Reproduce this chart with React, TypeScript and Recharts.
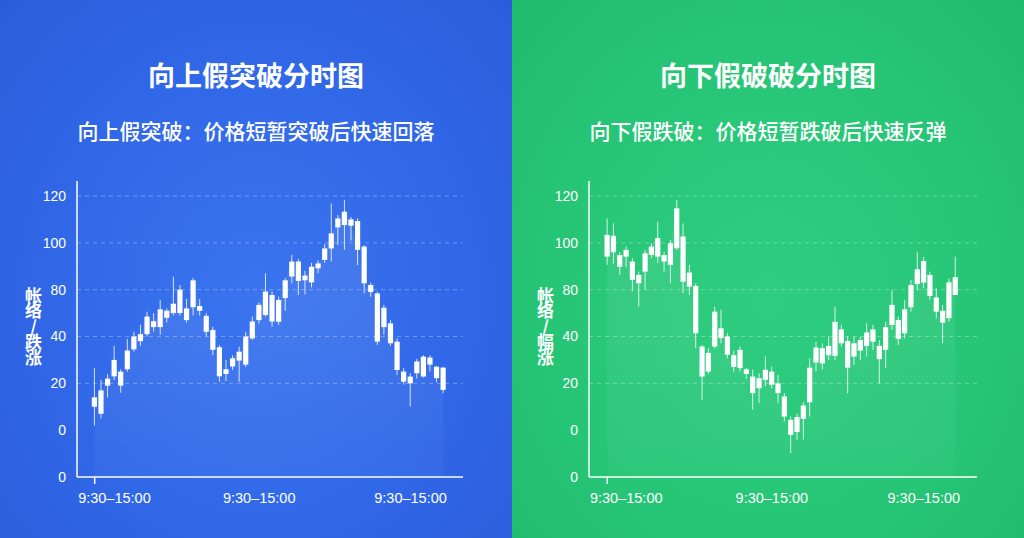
import React from 'react'
import { ComposedChart, Bar, Area, XAxis, YAxis, CartesianGrid } from 'recharts'

// each candle: [open, close, high, low] in axis slot units (0..120)
const upBreakCandles: number[][] = [
  [30, 34, 46.5, 22], [27, 37, 41.5, 25], [39, 42, 44, 34], [43, 50, 56, 41.5],
  [45, 39, 46, 36], [46, 54, 59, 45], [54.5, 60, 62, 53.6], [58, 61, 65, 56],
  [61, 68.5, 70.6, 60], [64, 66.5, 70, 62], [64, 71.6, 75.6, 60.7], [68, 71, 72, 66],
  [70, 74, 85.6, 69], [80, 70, 82, 69], [72, 67, 76, 66], [72.5, 84, 85, 69],
  [73, 71, 76, 69], [68.8, 62, 70, 60], [62.8, 54.3, 64.2, 52], [55.4, 43, 56.4, 40.7],
  [46, 44, 50, 41], [47.2, 50.7, 52, 45.7], [49.7, 53.5, 55.7, 40.7], [48, 60, 62, 47],
  [59.2, 66.4, 68.5, 58.5], [67, 73.5, 74.5, 65.5], [69.2, 79.2, 87, 68.5], [77.7, 66.4, 79.2, 64.2],
  [66.3, 75.6, 77, 65], [76.4, 84, 85, 71], [85.6, 92, 94.8, 82.7], [92, 83.7, 93, 77.7],
  [84, 86, 88, 78], [83.1, 89.8, 91.5, 81], [89.1, 91.2, 92.5, 87], [92.7, 97.6, 99.5, 91.5],
  [97.6, 104, 116.8, 92], [106.6, 110.4, 111.9, 99], [107.6, 113.3, 118.3, 97], [110, 107.3, 111, 101],
  [109.3, 97, 110.4, 90.5], [98.4, 82.7, 99, 78.4], [79, 82, 83, 77], [78.4, 57.8, 79.1, 56.4],
  [64, 72.3, 73.5, 60.7], [65.6, 57.1, 67, 56], [57.8, 45.7, 59.2, 43.6], [45, 40.7, 46.5, 39.5],
  [42.9, 40, 44.4, 30.1], [44.3, 49.3, 50.5, 42], [42.9, 51.4, 52, 42.5], [48, 51, 52, 45],
  [47.1, 42.2, 47.5, 40.5], [46.7, 37.2, 47.1, 35.8],
]

const downBreakCandles: number[][] = [
  [103.4, 94.1, 110.5, 90.6], [96, 103, 108.3, 91], [94.8, 89.8, 96, 86.3], [94.1, 97, 98.5, 89.6],
  [92, 84.2, 93.4, 79.2], [86.3, 82.7, 87.7, 72.8], [87.7, 95.5, 97, 79.9], [94.8, 98.4, 99.8, 93.4],
  [94.1, 102, 109, 91.3], [94.8, 92, 96.2, 87.7], [90.6, 99.8, 101.2, 82.7], [97.7, 114.7, 118.3, 97],
  [102.7, 83.4, 108.3, 78.5], [87.3, 81.3, 90.6, 77.8], [81.6, 61.4, 82.7, 55], [55.7, 42.9, 56.4, 33],
  [45, 53, 55, 44], [55.7, 70.6, 72.8, 55], [63.5, 59.3, 71.4, 57.1], [60, 52.2, 61.4, 50.7],
  [52, 47, 54, 45], [54.3, 46.5, 55.7, 45], [46, 44, 46.5, 42], [42.9, 35.8, 45.8, 28.7],
  [42.2, 37.9, 44.3, 31.5], [41.5, 45.8, 51.5, 38.7], [45, 39.4, 47.2, 37.9], [40, 35.8, 43.6, 31.5],
  [34.4, 25.8, 35.8, 23.7], [24.4, 18, 25.8, 10.2], [19.2, 25.6, 27, 15.9], [24.8, 30.5, 32, 16],
  [31.9, 46.7, 50.7, 25.8], [48.9, 55.3, 57.8, 45], [48.5, 55, 57, 46], [52, 56, 60, 50],
  [51.7, 66.3, 72.7, 50], [63, 57.1, 65, 55.7], [58.1, 46.7, 60, 35.8], [51.4, 57.1, 60, 47.8],
  [54, 58.5, 60, 50], [56, 61.7, 65.6, 51.4], [57.8, 63, 65, 54.3], [56, 50.3, 58.5, 40],
  [54.3, 64, 66.3, 46.5], [64.9, 73.5, 79.9, 62.8], [59, 67, 68.5, 56.4], [61.4, 71.6, 75.6, 59.2],
  [72.5, 82, 84.2, 70.6], [82.4, 88.7, 96.2, 79.9], [92.2, 83, 94, 80.6], [86.3, 77.3, 87.7, 75.6],
  [76.7, 70.6, 80.6, 67.8], [71, 65.9, 73.5, 57.1], [67.8, 83.1, 84.8, 66.3], [77.7, 85.3, 94.1, 77.7],
]

const yTickValues = [0, 20, 40, 60, 80, 100, 120]
const yTickLabels = ['0', '0', '20', '40', '80', '100', '120']
const gridValues = [40, 60, 80, 100, 120]
const sessionLabel = '9:30–15:00'
const upLabelSlots = [3, 25, 48]
const downLabelSlots = [3, 26, 50]

const FONT = '"Noto Sans CJK SC", "Liberation Sans", sans-serif'
const NUM_FONT = '"Liberation Sans", "Noto Sans CJK SC", sans-serif'

const toRows = (candles: number[][]) =>
  candles.map(([o, c, h, l], i) => ({ i, o, c, h, l }))

const Candle = (props: any) => {
  const { x, y, width, height, payload } = props
  if (x == null || y == null || !payload) return null
  const top = Math.min(y, y + height)
  const bottom = Math.max(y, y + height)
  const span = payload.h - payload.l || 1
  const toPx = (v: number) => top + ((payload.h - v) / span) * (bottom - top)
  const cx = x + width / 2
  const bodyTop = toPx(Math.max(payload.o, payload.c))
  const bodyBottom = toPx(Math.min(payload.o, payload.c))
  return (
    <g>
      <line x1={cx} x2={cx} y1={top} y2={bottom} stroke="rgba(255,255,255,0.8)" strokeWidth={1} />
      <rect
        x={cx - 2.6}
        y={bodyTop}
        width={5.2}
        height={Math.max(bodyBottom - bodyTop, 1.5)}
        fill="#ffffff"
      />
    </g>
  )
}

const YTick = ({ x, y, payload }: any) => {
  const idx = yTickValues.indexOf(payload.value)
  return (
    <text
      x={x - 3}
      y={y}
      textAnchor="end"
      dominantBaseline="central"
      fill="#ffffff"
      fontSize={14}
      fontFamily={NUM_FONT}
    >
      {idx >= 0 ? yTickLabels[idx] : ''}
    </text>
  )
}

const XTick = ({ x, y, payload }: any) => {
  if (payload.value === 0) {
    return <line x1={x} x2={x} y1={y - 8} y2={y - 1} stroke="#ffffff" strokeWidth={1.5} />
  }
  return (
    <text
      x={x}
      y={y + 13}
      textAnchor="middle"
      dominantBaseline="central"
      fill="#ffffff"
      fontSize={14.5}
      fontFamily={NUM_FONT}
    >
      {sessionLabel}
    </text>
  )
}

interface PanelProps {
  id: string
  candles: number[][]
  labelSlots: number[]
  title: string
  subtitle: string
  yName: string
  background: string
  padLeft: number
  padRight: number
  marginRight: number
}

function Panel({ id, candles, labelSlots, title, subtitle, yName, background, padLeft, padRight, marginRight }: PanelProps) {
  const rows = toRows(candles)
  return (
    <div style={{ position: 'relative', width: 512, height: 538, background, overflow: 'hidden' }}>
      <div
        style={{
          position: 'absolute', left: 0, top: 56, width: 512, textAlign: 'center',
          color: '#fff', fontFamily: FONT, fontWeight: 700, fontSize: 27, lineHeight: '38px',
        }}
      >
        {title}
      </div>
      <div
        style={{
          position: 'absolute', left: 0, top: 115, width: 512, textAlign: 'center',
          color: '#fff', fontFamily: FONT, fontWeight: 500, fontSize: 21, lineHeight: '30px',
        }}
      >
        {subtitle}
      </div>
      <div
        style={{
          position: 'absolute', left: 24, top: 287, color: '#fff', fontFamily: FONT,
          fontWeight: 600, fontSize: 17, lineHeight: '18px', writingMode: 'vertical-rl',
          textOrientation: 'upright', letterSpacing: -1.5,
        }}
      >
        {yName}
      </div>
      <div style={{ position: 'absolute', left: 0, top: 0 }}>
        <ComposedChart
          width={512}
          height={538}
          data={rows}
          margin={{ top: 181, right: marginRight, bottom: 31, left: 37 }}
          barCategoryGap={0}
        >
          <defs>
            <linearGradient id={`glow-${id}`} x1="0" y1="0" x2="0" y2="1">
              <stop offset="0%" stopColor="#ffffff" stopOpacity={0.08} />
              <stop offset="100%" stopColor="#ffffff" stopOpacity={0.03} />
            </linearGradient>
          </defs>
          <CartesianGrid
            vertical={false}
            horizontalValues={gridValues}
            stroke="rgba(255,255,255,0.3)"
            strokeDasharray="4 4"
          />
          <XAxis
            dataKey="i"
            type="category"
            padding={{ left: padLeft, right: padRight }}
            ticks={[0, ...labelSlots]}
            interval={0}
            axisLine={{ stroke: '#ffffff', strokeWidth: 1.5 }}
            tickLine={false}
            tick={<XTick />}
            height={30}
          />
          <YAxis
            type="number"
            domain={[0, 126.4]}
            ticks={yTickValues}
            interval={0}
            allowDataOverflow
            axisLine={{ stroke: '#ffffff', strokeWidth: 1.5 }}
            tickLine={false}
            tick={<YTick />}
            width={40}
          />
          <Area
            dataKey="c"
            type="monotone"
            stroke="none"
            fill={`url(#glow-${id})`}
            fillOpacity={1}
            isAnimationActive={false}
          />
          <Bar
            dataKey={(d: any) => [d.l, d.h]}
            barSize={6}
            shape={<Candle />}
            isAnimationActive={false}
          />
        </ComposedChart>
      </div>
    </div>
  )
}

export default function App() {
  return (
    <div style={{ position: 'absolute', left: 0, top: 0, width: 1024, height: 538, display: 'flex', overflow: 'hidden' }}>
      <Panel
        id="up"
        candles={upBreakCandles}
        labelSlots={upLabelSlots}
        title="向上假突破分时图"
        subtitle="向上假突破：价格短暂突破后快速回落"
        yName="帐络/跌涨"
        background="radial-gradient(ellipse at 50% 55%, #3a74ef 0%, #3168e8 55%, #2b5cdb 100%)"
        padLeft={14.4}
        padRight={16.3}
        marginRight={49}
      />
      <Panel
        id="down"
        candles={downBreakCandles}
        labelSlots={downLabelSlots}
        title="向下假破破分时图"
        subtitle="向下假跌破：价格短暂跌破后快速反弹"
        yName="帐络/幅涨"
        background="radial-gradient(ellipse at 50% 55%, #2ecd80 0%, #27c677 55%, #21bb6c 100%)"
        padLeft={15.1}
        padRight={18.4}
        marginRight={47}
      />
    </div>
  )
}
